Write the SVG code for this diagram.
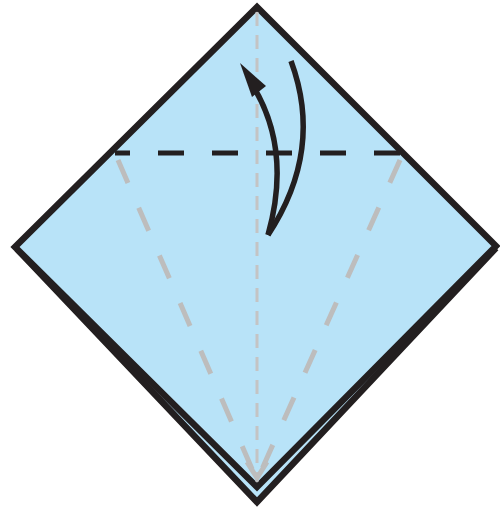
<svg xmlns="http://www.w3.org/2000/svg" width="500" height="514" viewBox="0 0 500 514">
<style>
.paper{fill:#b8e3f8;stroke:#231f20;stroke-width:6.5;stroke-linejoin:miter}
.valley{fill:none;stroke:#231f20;stroke-width:5;stroke-dasharray:26 28}
.crease{fill:none;stroke:#bdbdbd;stroke-width:5;stroke-dasharray:25 27}
.center{fill:none;stroke:#c4c4c4;stroke-width:3;stroke-dasharray:14 9}
.arrow{fill:none;stroke:#231f20;stroke-width:5.5;stroke-linecap:butt}
</style>
<g id="back-layer">
<path class="paper" d="M17,249 L257,502 L496,248"/>
</g>
<g id="front-square">
<polygon class="paper" points="257,7 496,246 257,487 15,247"/>
</g>
<g id="creases">
<line class="center" x1="257" y1="12" x2="257" y2="482"/>
<line class="crease" x1="118" y1="160" x2="256" y2="478"/>
<line class="crease" x1="400" y1="160" x2="258" y2="478"/>
<polyline fill="none" stroke="#bdbdbd" stroke-width="5" points="247,462 257,478 267,462"/>
</g>
<g id="fold-line">
<line class="valley" x1="115" y1="153" x2="403" y2="153" stroke-dashoffset="11"/>
</g>
<g id="arrow">
<path class="arrow" d="M268,235 Q292,150 253,86"/>
<path class="arrow" d="M291,61 Q324,150 268,235"/>
<polygon fill="#231f20" points="240,63 266,86 252,97"/>
</g>
</svg>
